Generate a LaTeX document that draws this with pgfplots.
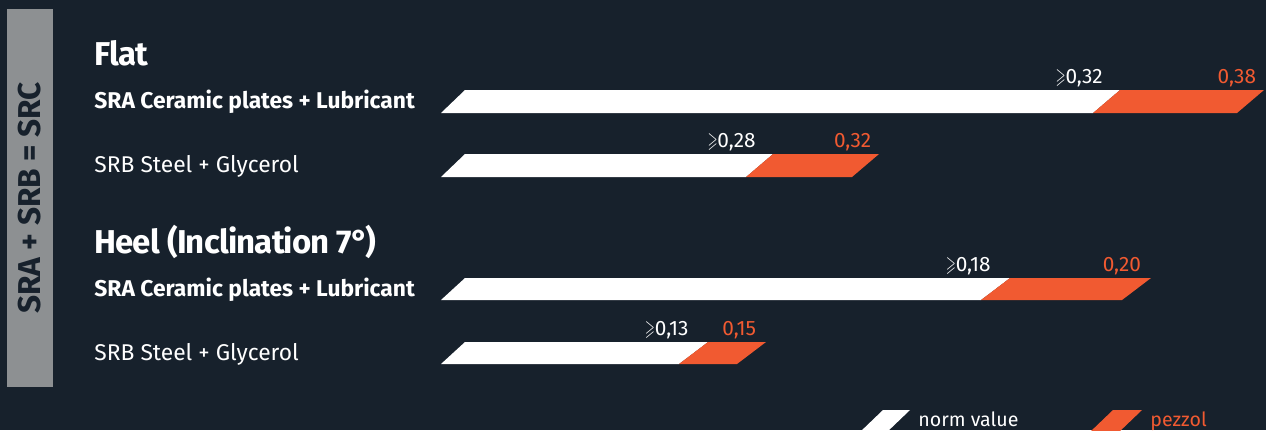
\documentclass[border=0pt]{standalone}
\usepackage{pgfplots}
\pgfplotsset{compat=1.18}
\usepackage{fontspec}
\usepackage{amssymb}
\usepackage{graphicx}
\setmainfont{Fira Sans}
\definecolor{bgcol}{HTML}{17212C}
\definecolor{pez}{HTML}{F15A31}
\definecolor{greybox}{HTML}{8D9092}
\newcommand{\gsym}{\scalebox{0.6}[1.05]{$\geqslant$}}

\begin{document}
\begin{tikzpicture}
% page background, 1 px of the reference = 0.5pt
\fill[bgcol] (0,0) rectangle (633pt,215pt);
\begin{axis}[
  at={(0,0)}, anchor=south west,
  scale only axis, width=633pt, height=215pt,
  xmin=-441, xmax=825, ymin=0, ymax=430, y dir=reverse,
  axis line style={draw=none}, tick style={draw=none},
  xtick=\empty,
  ytick={101.5,165.5,289,353},
  yticklabels={{\bfseries SRA Ceramic plates + Lubricant},SRB Steel + Glycerol,
               {\bfseries SRA Ceramic plates + Lubricant},SRB Steel + Glycerol},
  yticklabel style={anchor=base west, inner sep=0pt, xshift=47pt, yshift=-3.6pt,
                    text=white, font=\fontsize{11.4pt}{13pt}\selectfont},
]
% norm value (white) segments
\addplot[fill=white, draw=none] coordinates {(0,113) (24,90) (679,90) (652,113)} --cycle;
\addplot[fill=white, draw=none] coordinates {(0,177) (24,154) (332,154) (305,177)} --cycle;
\addplot[fill=white, draw=none] coordinates {(0,300) (24,278) (569,278) (540,300)} --cycle;
\addplot[fill=white, draw=none] coordinates {(0,364) (24,342) (267,342) (238,364)} --cycle;
% pezzol (orange) segments
\addplot[fill=pez, draw=none] coordinates {(652,113) (679,90) (823,90) (796,113)} --cycle;
\addplot[fill=pez, draw=none] coordinates {(305,177) (332,154) (438,154) (411,177)} --cycle;
\addplot[fill=pez, draw=none] coordinates {(540,300) (569,278) (710,278) (681,300)} --cycle;
\addplot[fill=pez, draw=none] coordinates {(238,364) (267,342) (325,342) (296,364)} --cycle;
% value labels
\addplot[draw=none, mark=none, nodes near coords, point meta=explicit symbolic,
  every node near coord/.append style={anchor=base east, inner sep=0pt, xshift=5pt, yshift=3.25pt,
    text=white, font=\fontsize{10.4pt}{12pt}\selectfont}]
  coordinates {(652,90) [\gsym0,32] (305,154) [\gsym0,28] (540,278) [\gsym0,18] (238,342) [\gsym0,13]};
\addplot[draw=none, mark=none, nodes near coords, point meta=explicit symbolic,
  every node near coord/.append style={anchor=base east, inner sep=0pt, xshift=9.75pt, yshift=3.25pt,
    text=pez, font=\fontsize{10.4pt}{12pt}\selectfont}]
  coordinates {(796,90) [0,38] (411,154) [0,32] (681,278) [0,20] (296,342) [0,15]};
% legend swatches
\addplot[fill=white, draw=none] coordinates {(418,433) (442,410) (469,410) (445,433)} --cycle;
\addplot[fill=pez, draw=none] coordinates {(648,433) (672,410) (701,410) (677,433)} --cycle;
\node[anchor=base west, inner sep=0pt, text=white, font=\fontsize{9.8pt}{12pt}\selectfont] at (axis cs:477,426) {norm value};
\node[anchor=base west, inner sep=0pt, text=pez, font=\fontsize{9.8pt}{12pt}\selectfont] at (axis cs:709,426) {pezzol};
% group headings
\node[anchor=base west, inner sep=0pt, text=white, font=\bfseries\fontsize{16.5pt}{20pt}\selectfont\addfontfeature{LetterSpace=-2.5}] at (axis cs:-347,65) {Flat};
\node[anchor=base west, inner sep=0pt, text=white, font=\bfseries\fontsize{16.5pt}{20pt}\selectfont\addfontfeature{LetterSpace=-2.5}] at (axis cs:-347,253) {Heel (Inclination 7°\kern-0.1em)};
% side box
\fill[greybox] (axis cs:-434,9) rectangle (axis cs:-388,387);
\node[rotate=90, inner sep=0pt, text=bgcol, font=\bfseries\fontsize{15.8pt}{20pt}\selectfont] at (axis cs:-411,198) {SRA + SRB = SRC};
\end{axis}
\pgfresetboundingbox
\useasboundingbox (0,0) rectangle (633pt,215pt);
\end{tikzpicture}
\end{document}
